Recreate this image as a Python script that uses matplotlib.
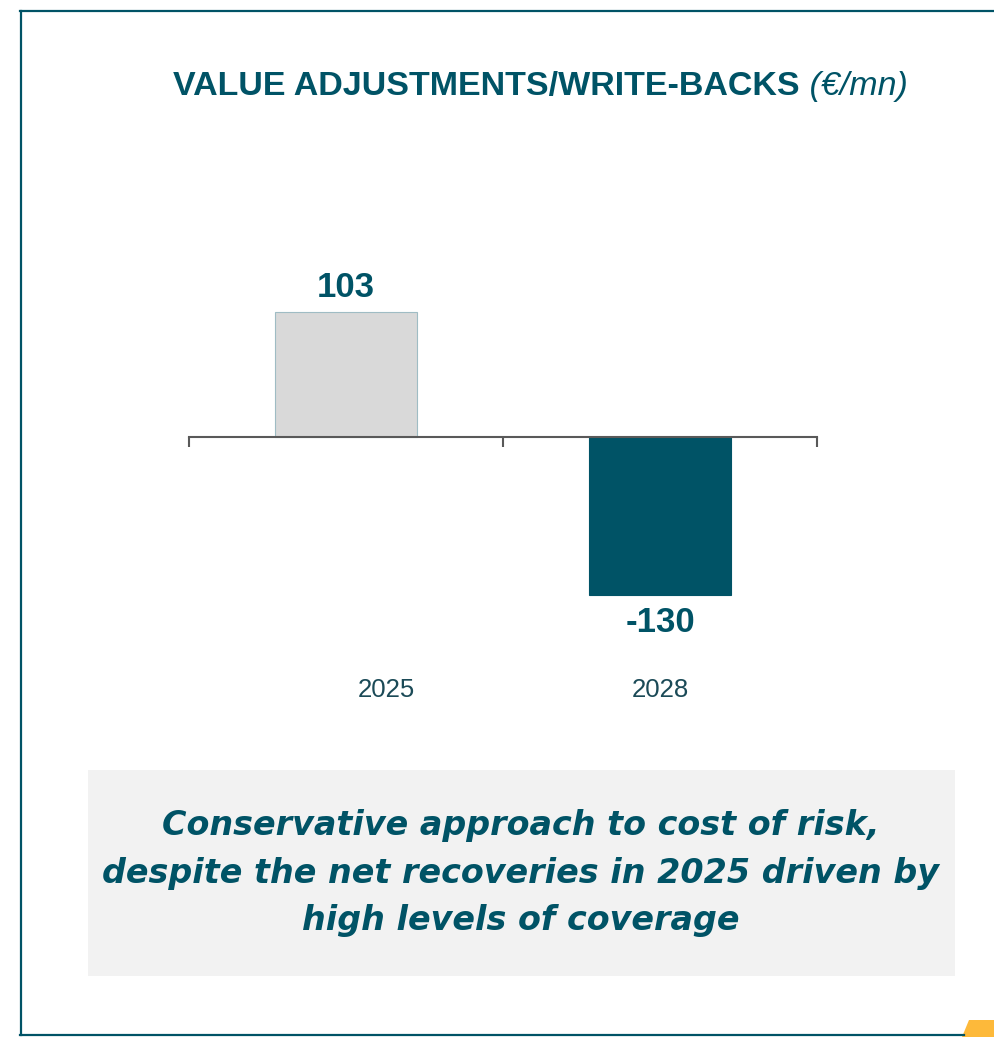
import matplotlib
matplotlib.use("Agg")
import matplotlib.pyplot as plt
import matplotlib.transforms as mtransforms
from matplotlib.patches import Rectangle, Polygon

# data
categories = ["2025", "2028"]
values = [103, -130]
value_labels = ["103", "-130"]
title_main = "VALUE ADJUSTMENTS/WRITE-BACKS"
title_unit = " (€/mn)"
note_lines = ["Conservative approach to cost of risk,",
              "despite the net recoveries in 2025 driven by",
              "high levels of coverage"]

TEAL = "#005366"
W, H = 994, 1037

fig = plt.figure(figsize=(W / 100, H / 100), dpi=100)
fig.patch.set_facecolor("white")

def fx(px):
    return px / W

def fy(py):
    return 1 - py / H

# frame around the slide area
fig.add_artist(plt.Line2D([fx(21), fx(21)], [fy(11), fy(1035)], color=TEAL, lw=1.6))
fig.add_artist(plt.Line2D([fx(20), 1.0], [fy(11), fy(11)], color=TEAL, lw=1.6))
fig.add_artist(plt.Line2D([fx(20), fx(964)], [fy(1035), fy(1035)], color=TEAL, lw=1.6))
fig.add_artist(Polygon([(fx(962), 0), (fx(969), fy(1020)), (1, fy(1020)), (1, 0)],
                       closed=True, transform=fig.transFigure, color="#fdb93a", lw=0))

# chart axes: zero line at y=437 px
top_px, bot_px = 200, 650
ax = fig.add_axes([fx(189), fy(bot_px), fx(817) - fx(189), (bot_px - top_px) / H])
scale = 125 / 103.0
ax.set_ylim(-(bot_px - 437) / scale, (437 - top_px) / scale)
ax.set_xlim(-0.5, 1.5)

x = list(range(len(categories)))
colors = ["#d9d9d9", TEAL]
edges = ["#9fbcc4", TEAL]
ax.bar(x, values, width=0.455, color=colors, edgecolor=edges, linewidth=0.8, zorder=2)

for spine in ["top", "right", "left"]:
    ax.spines[spine].set_visible(False)
ax.spines["bottom"].set_position(("data", 0))
ax.spines["bottom"].set_color("#595959")
ax.spines["bottom"].set_linewidth(1.5)
ax.spines["bottom"].set_zorder(3)
ax.set_yticks([])
ax.set_xticks([-0.5, 0.5, 1.5])
ax.set_xticklabels([])
ax.tick_params(axis="x", direction="out", length=7.5, width=1.5, color="#595959")
ax.patch.set_alpha(0)

label_font = ["Liberation Sans", "DejaVu Sans"]
for xi, v, lab in zip(x, values, value_labels):
    off = 6 if v > 0 else -8
    ax.annotate(lab, (xi, v), xytext=(0, off), textcoords="offset points",
                ha="center", va="bottom" if v > 0 else "top",
                fontsize=25, fontweight="bold", color=TEAL, family=label_font)

# category labels below the chart
cat_offsets = [0.13, 0.0]
trans = mtransforms.blended_transform_factory(ax.transData, fig.transFigure)
for xi, cat, dx in zip(x, categories, cat_offsets):
    ax.text(xi + dx, fy(690), cat, transform=trans,
            ha="center", va="center", fontsize=18.5, color="#1b4a57",
            family=label_font)

# title in two parts
t1 = fig.text(fx(173), fy(87), title_main, ha="left", va="center", fontsize=24.5,
              fontweight="bold", color=TEAL, family=label_font)
fig.canvas.draw()
bb = t1.get_window_extent()
fig.text(bb.x1 / W, fy(87), title_unit, ha="left", va="center", fontsize=24.5,
         style="italic", color=TEAL, family=label_font)

# note box
fig.add_artist(Rectangle((fx(88), fy(976)), fx(955) - fx(88), (976 - 770) / H,
                         transform=fig.transFigure, facecolor="#f2f2f2", lw=0))
fig.text(fx(521), fy(873), "\n".join(note_lines), ha="center", va="center",
         fontsize=24, fontweight="bold", style="italic", color=TEAL,
         linespacing=1.55, family=["DejaVu Sans"])

fig.savefig("out.png", dpi=100)
